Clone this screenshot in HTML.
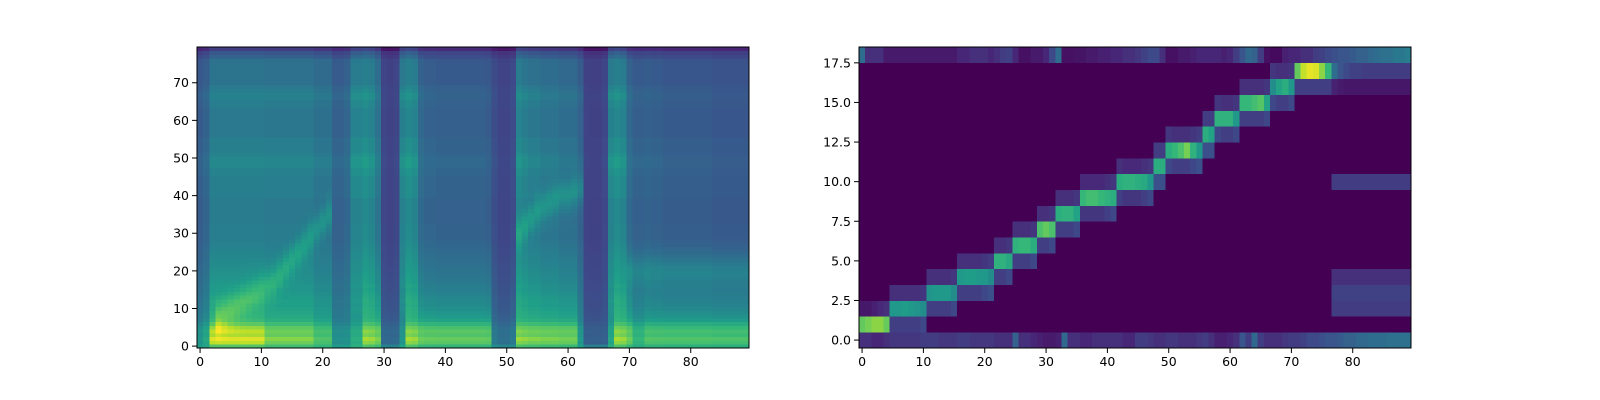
<!DOCTYPE html>
<html><head><meta charset="utf-8">
<style>
html,body{margin:0;padding:0;background:#fff;}
svg{display:block;font-family:"DejaVu Sans","Liberation Sans",sans-serif;}
</style></head>
<body>
<svg id="fig" width="1600" height="400" viewBox="0 0 1600 400" xmlns="http://www.w3.org/2000/svg">
<rect width="1600" height="400" fill="#fff"/>
<g id="melCells" shape-rendering="crispEdges"></g>
<g id="alignCells" shape-rendering="crispEdges"></g>
<g id="axesG"></g>
</svg>
<script>
// ---- Mel spectrogram data (90 frames x 80 mel bins) ----
const loud = [.5,.6,.95,.95,.95,.95,.95,.95,.95,.95,.95,.85,.85,.85,.85,.85,.85,.85,.85,.75,.75,.75,.45,.45,.45,.55,.55,.85,.85,.85,.25,.25,.25,.4,.85,.85,.85,.85,.85,.85,.85,.85,.85,.85,.85,.85,.85,.85,.35,.3,.3,.35,.85,.85,.85,.85,.85,.85,.85,.85,.85,.85,.5,.2,.2,.2,.2,.5,.85,.85,.85,.7,.7,.8,.8,.8,.8,.8,.8,.8,.8,.8,.8,.8,.8,.8,.8,.8,.8,.8];
const hiEnergy = [.2,.25,.4,.4,.4,.4,.4,.4,.4,.4,.4,.4,.4,.4,.4,.4,.4,.4,.4,.35,.35,.35,.25,.25,.3,.55,.55,.55,.5,.35,.08,.05,.08,.55,.55,.5,.25,.2,.2,.18,.18,.18,.18,.18,.18,.18,.18,.15,.12,.06,.06,.1,.5,.45,.4,.4,.35,.35,.35,.3,.3,.3,.25,.06,.05,.05,.1,.55,.55,.5,.25,.2,.2,.2,.18,.18,.15,.15,.15,.15,.15,.15,.15,.15,.12,.12,.12,.12,.12,.12];
const lowProfile = [.35,.72,.75,.7,.72,.68,.6,.5,.44,.4,.36,.34,.32,.3,.28,.26,.24,.22,.21,.2,.19,.18,.17,.16,.15,.14,.13,.12,.11,.1,.1,.1,.1,.09,.09,.09,.09,.09,.09,.09,.09,.09,.09,.09,.09,.09,.09,.09,.09,.09,.09,.09,.09,.09,.09,.09,.08,.08,.08,.08,.08,.08,.08,.08,.08,.08,.08,.08,.08,.08,.07,.07,.07,.07,.07,.07,.06,.06,.06,.06];
const hiProfile = [.2,.2,.2,.2,.2,.2,.2,.25,.3,.35,.4,.4,.45,.45,.45,.45,.5,.5,.5,.5,.5,.5,.5,.5,.5,.5,.5,.5,.5,.5,.5,.5,.5,.5,.5,.5,.5,.5,.5,.5,.55,.55,.55,.55,.55,.55,.6,.6,.65,.65,.65,.6,.55,.55,.55,.55,.5,.5,.5,.5,.5,.5,.5,.5,.55,.55,.6,.6,.55,.5,.45,.45,.45,.45,.45,.45,.45,.35,.3,.3];
const rowBias = [.22,0,0,0,0,0,0,0,0,0,0,0,0,0,0,0,0,0,0,0,0,0,0,0,0,0,0,0,0,0,0,0,0,0,0,0,0,0,0,0,0,0,0,0,0,0,0,0,0,0,0,0,0,0,0,0,0,0,0,0,0,0,0,0,0,0,0,0,0,0,0,0,0,0,0,0,0,-.03,-.05,-.15];
const formRow = [0,0,0,8,9,10,11,12,13,14,15,16,17,19,21,23,25,27,29,31,33,35,0,0,0,0,0,0,0,0,0,0,0,0,0,0,0,0,0,0,0,0,0,0,0,0,0,0,0,0,0,0,30,32,34,36,37,38,39,40,40,41,42,0,0,0,0,0,0,0,20,20,20,20,20,20,20,20,20,20,20,20,20,20,20,20,20,20,20,20];
const formAmp = [0,0,0,.15,.15,.15,.15,.15,.15,.15,.15,.15,.15,.15,.15,.15,.15,.15,.15,.15,.15,.15,0,0,0,0,0,0,0,0,0,0,0,0,0,0,0,0,0,0,0,0,0,0,0,0,0,0,0,0,0,0,.15,.15,.15,.15,.15,.15,.15,.15,.15,.15,.15,0,0,0,0,0,0,0,.1,.1,.1,.1,.1,.1,.1,.1,.1,.1,.1,.1,.1,.1,.1,.1,.1,.1,.1,.1];
const melXTicks = [0,10,20,30,40,50,60,70,80];
const melYTicks = [0,10,20,30,40,50,60,70];

// ---- Alignment data (90 decoder steps x 19 encoder steps) ----
const peakRow = [1,1,1,1,1,2,2,2,2,2,2,3,3,3,3,3,4,4,4,4,4,4,5,5,5,6,6,6,6,7,7,7,8,8,8,8,9,9,9,9,9,9,10,10,10,10,10,10,11,11,12,12,12,12,12,12,13,13,14,14,14,14,15,15,15,15,15,16,16,16,16,17,17,17,17,17,17,17,17,17,17,17,17,17,17,17,17,17,17,17];
const peakVal = [.85,.88,.9,.9,.86,.6,.6,.62,.6,.58,.55,.58,.6,.6,.6,.55,.6,.62,.62,.6,.6,.55,.72,.72,.68,.72,.75,.75,.7,.8,.85,.8,.7,.72,.72,.65,.75,.78,.78,.75,.72,.7,.7,.72,.72,.7,.68,.6,.7,.7,.7,.75,.8,.88,.72,.6,.7,.65,.72,.72,.72,.6,.75,.75,.78,.82,.65,.55,.65,.7,.6,.85,.95,.98,.97,.9,.75,.4,.3,.25,.22,.22,.2,.2,.2,.2,.18,.18,.18,.18];
const spread = [.15,.15,.2,.25,.3,.3,.3,.3,.3,.3,.35,.3,.3,.3,.3,.35,.3,.3,.3,.3,.35,.4,.3,.3,.35,.3,.3,.3,.35,.3,.3,.35,.3,.3,.3,.35,.25,.25,.25,.25,.3,.35,.3,.25,.25,.25,.3,.35,.4,.4,.35,.3,.3,.3,.35,.4,.4,.4,.35,.3,.3,.35,.3,.3,.3,.3,.35,.35,.3,.3,.35,.3,.3,.3,.3,.3,.3,.15,.12,.1,.1,.1,.1,.1,.1,.1,.1,.1,.1,.1];
const topRow = [.4,.15,.15,.15,.08,.08,.08,.08,.08,.08,.08,.08,.08,.08,.08,.08,.12,.12,.15,.15,.15,.12,.15,.2,.22,.12,.05,.05,.08,.08,.12,.25,.4,.05,.05,.06,.06,.08,.08,.1,.1,.12,.12,.15,.15,.18,.22,.25,.25,.15,.05,.05,.08,.08,.1,.12,.12,.12,.12,.1,.12,.2,.3,.38,.35,.2,.05,.03,.03,.1,.12,.12,.15,.15,.2,.22,.25,.28,.3,.3,.32,.35,.35,.38,.4,.42,.42,.45,.45,.48];
const bottomRow = [.15,.15,.12,.12,.15,.18,.18,.18,.18,.18,.2,.2,.2,.18,.18,.18,.2,.2,.18,.18,.18,.18,.15,.15,.15,.35,.15,.15,.12,.1,.08,.08,.1,.38,.15,.15,.12,.12,.15,.15,.15,.15,.15,.12,.12,.2,.2,.18,.15,.15,.18,.18,.15,.15,.15,.18,.2,.15,.1,.1,.12,.15,.3,.2,.38,.2,.15,.15,.15,.18,.2,.2,.22,.25,.25,.28,.3,.3,.32,.35,.35,.38,.38,.4,.4,.4,.42,.42,.42,.42];
const tailRows = [2,3,4,10,17];
const tailVals = [.2,.22,.15,.2,.2];
const alignXTicks = [0,10,20,30,40,50,60,70,80];
const alignYTicks = [0,2.5,5,7.5,10,12.5,15,17.5];

// ---- viridis ----
const VS=[[68,1,84],[72,40,120],[62,73,137],[49,104,142],[38,130,142],[31,158,137],[53,183,121],[110,206,88],[181,222,43],[253,231,37]];
const VP=[0,.125,.25,.375,.5,.625,.75,.875,.9375,1];
function vir(t){t=Math.max(0,Math.min(1,t));let i=0;while(i<VP.length-2&&t>VP[i+1])i++;
const f=(t-VP[i])/(VP[i+1]-VP[i]);const a=VS[i],b=VS[i+1];
return 'rgb('+a.map((v,k)=>Math.round(v+(b[k]-v)*f)).join(',')+')';}

const NS='http://www.w3.org/2000/svg';
function mk(tag,attrs,parent){const e=document.createElementNS(NS,tag);for(const k in attrs)e.setAttribute(k,attrs[k]);parent.appendChild(e);return e;}

const L={x0:197,x1:749,y0:47,y1:348,nx:90,ny:80};
const R={x0:859,x1:1411,y0:47,y1:348,nx:90,ny:19};
function sx(ax,v){return ax.x0+(v+0.5)*(ax.x1-ax.x0)/ax.nx;}
function sy(ax,v){return ax.y1-(v+0.5)*(ax.y1-ax.y0)/ax.ny;}

const mg=document.getElementById('melCells');
const cw=(L.x1-L.x0)/L.nx, chL=(L.y1-L.y0)/L.ny;
for(let c=0;c<L.nx;c++){for(let r=0;r<L.ny;r++){
 let v=0.18+loud[c]*lowProfile[r]+hiEnergy[c]*hiProfile[r]+rowBias[r];
 if(formRow[c]>0){const d=(r-formRow[c])/4;v+=formAmp[c]*Math.exp(-d*d);}
 const el=mk('rect',{x:(sx(L,c)-cw/2).toFixed(2),y:(sy(L,r)-chL/2).toFixed(2),width:(cw+0.4).toFixed(2),height:(chL+0.4).toFixed(2),fill:vir(v)},mg);
 
 
}}

const ag=document.getElementById('alignCells');
const chR=(R.y1-R.y0)/R.ny;
for(let c=0;c<R.nx;c++){
 const col=new Array(R.ny).fill(0);
 col[0]=bottomRow[c];col[18]=topRow[c];
 if(c>=77){for(let k=0;k<tailRows.length;k++)col[tailRows[k]]=Math.max(col[tailRows[k]],tailVals[k]);}
 const p=peakRow[c];
 col[p]=Math.max(col[p],peakVal[c]);
 if(p-1>0)col[p-1]=Math.max(col[p-1],spread[c]*0.7);
 if(p+1<18)col[p+1]=Math.max(col[p+1],spread[c]*0.5);
 for(let r=0;r<R.ny;r++){
  const el=mk('rect',{x:(sx(R,c)-cw/2).toFixed(2),y:(sy(R,r)-chR/2).toFixed(2),width:(cw+0.4).toFixed(2),height:(chR+0.4).toFixed(2),fill:vir(col[r])},ag);
  
  
 }
}

const axg=document.getElementById('axesG');
function drawAxes(ax,xt,yt,name,fmt){
 const g=mk('g',{},axg);
 
 
 const fr=mk('rect',{x:ax.x0,y:ax.y0,width:ax.x1-ax.x0,height:ax.y1-ax.y0,fill:'none',stroke:'#000','stroke-width':1},g);
 
 
 xt.forEach(v=>{const x=sx(ax,v);
  mk('line',{x1:x,y1:ax.y1,x2:x,y2:ax.y1+5,stroke:'#000','stroke-width':1},g);
  const t=mk('text',{x:x,y:ax.y1+18,'font-size':12.5,'text-anchor':'middle',fill:'#000'},g);t.textContent=v;
  
  });
 yt.forEach(v=>{const y=sy(ax,v);
  mk('line',{x1:ax.x0-5,y1:y,x2:ax.x0,y2:y,stroke:'#000','stroke-width':1},g);
  const t=mk('text',{x:ax.x0-8,y:y+4.5,'font-size':12.5,'text-anchor':'end',fill:'#000'},g);t.textContent=fmt(v);
  
  });
}
drawAxes(L,melXTicks,melYTicks,'mel-axes',v=>String(v));
drawAxes(R,alignXTicks,alignYTicks,'alignment-axes',v=>v.toFixed(1));
</script>
</body></html>
